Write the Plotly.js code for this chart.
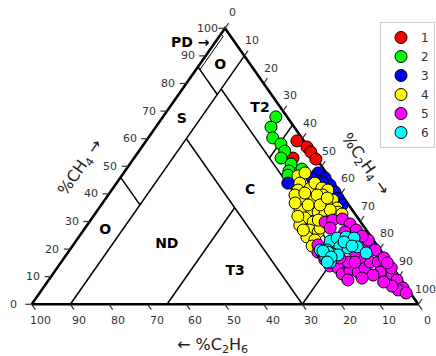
<!DOCTYPE html>
<html><head><meta charset="utf-8">
<script src="https://cdn.plot.ly/plotly-3.0.1.min.js"></script>
<style>html,body{margin:0;padding:0;background:#fff}#chart{width:436px;height:356px}</style>
</head><body><div id="chart"></div>
<script>
// ---- data: %CH4 and %C2H4 of each sample (%C2H6 = 100 - CH4 - C2H4) ----
const seriesNames = ['1', '2', '3', '4', '5', '6'];
const seriesColors = ['#ff0000', '#00ff00', '#0000ff', '#ffff00', '#ff00ff', '#00ffff'];

const ch4_1 = [59.2, 57.0, 55.2, 52.6, 53.0];
const c2h4_1 = [39.0, 42.7, 44.6, 47.2, 41.1];

const ch4_2 = [67.9, 64.2, 60.3, 58.1, 55.5, 53.0, 50.8, 48.3, 49.0, 45.0, 46.8];
const c2h4_2 = [29.2, 29.8, 32.2, 35.4, 37.7, 38.0, 41.7, 42.4, 45.4, 45.1, 42.9];

const ch4_3 = [47.6, 45.8, 43.2, 40.7, 38.5, 45.8, 43.9, 29.1, 44.3, 36.0];
const c2h4_3 = [50.3, 53.0, 55.6, 58.1, 60.0, 49.6, 44.3, 56.2, 53.0, 62.3];

const ch4_4 = [46.5, 47.6, 43.9, 41.4, 42.1, 43.9, 42.1, 41.4, 39.6, 37.8, 36.0, 34.9, 37.8, 37.8, 34.2, 33.4, 32.7, 31.3, 33.4, 34.2, 31.3, 29.8, 29.8, 28.7, 26.9, 26.2, 24.4, 23.3, 21.1, 27.6, 39.6, 40.3, 39.6, 34.2, 36.7, 36.0, 36.0, 38.5, 32.7, 31.9, 30.5, 26.9];
const c2h4_4 = [45.6, 46.9, 47.4, 48.2, 51.0, 51.3, 54.0, 55.9, 55.5, 59.0, 58.4, 61.5, 53.9, 51.3, 54.9, 57.4, 59.5, 62.0, 62.5, 52.3, 55.0, 57.9, 60.2, 55.0, 58.5, 61.0, 59.0, 61.6, 62.0, 60.8, 48.3, 50.5, 54.0, 60.1, 49.8, 53.5, 56.6, 57.2, 63.9, 52.9, 58.9, 56.8];

const ch4_5 = [29.8, 30.5, 30.9, 29.1, 26.9, 27.6, 21.5, 18.9, 16.1, 13.9, 13.2, 11.0, 12.4, 11.7, 13.2, 15.3, 15.3, 13.9, 11.7, 10.3, 8.8, 5.9, 5.2, 6.6, 10.6, 16.8, 20.4, 18.9, 15.3, 16.8, 19.7, 23.3, 24.7, 26.2, 16.8, 13.2, 4.1, 15.0, 8.1, 9.5, 8.8, 15.3];
const c2h4_5 = [61.0, 62.6, 64.9, 67.8, 70.5, 63.4, 63.3, 64.6, 67.8, 70.2, 72.6, 74.8, 76.1, 78.6, 79.6, 79.9, 82.0, 84.7, 84.3, 88.1, 90.1, 93.1, 92.2, 89.9, 83.0, 76.5, 75.8, 74.2, 74.2, 71.3, 79.0, 75.4, 73.1, 67.9, 82.7, 86.4, 94.8, 84.5, 87.0, 80.7, 77.4, 76.0];

const ch4_6 = [22.9, 24.0, 24.4, 24.0, 20.8, 20.4, 20.8, 18.6, 19.7, 18.2, 17.9, 18.6, 16.8, 15.3, 17.5, 18.9, 19.7, 22.6, 21.1, 17.9, 16.4, 19.3, 17.1, 15.3];
const c2h4_6 = [65.8, 67.0, 69.1, 71.4, 69.3, 71.6, 73.8, 77.2, 66.6, 68.8, 70.3, 65.8, 67.7, 69.6, 66.9, 67.2, 64.8, 69.5, 72.3, 66.9, 68.7, 65.7, 68.9, 68.8];

const tickValues = [0, 10, 20, 30, 40, 50, 60, 70, 80, 90, 100];

// Duval triangle 5 zone boundaries: [ch4 start, c2h4 start, ch4 end, c2h4 end]
const zoneSegments = [
  [86, 0, 76, 10], [46, 0, 36, 10], [90, 10, 0, 10], [78, 10, 18, 70],
  [65, 35, 53, 35], [60, 10, 0, 70], [35, 35, 0, 35], [18, 70, 0, 70]
];
const pdZoneCH4 = [98, 97, 85, 86, 98];
const pdZoneC2H4 = [0, 1, 1, 0, 0];
const zoneNames = ['O', 'S', 'T2', 'C', 'O', 'ND', 'T3', 'C'];
const zoneCH4 = [86.7, 66.8, 71.1, 41.4, 26.6, 21.5, 11.8, 12.1];
const zoneC2H4 = [5.4, 5.4, 23.5, 35.8, 5.7, 24.2, 46.7, 76.8];

// ---- geometry ----
const W = 436, H = 356;
const xRange = [-8.2, 104.58];
const yRange = [-18.73, 110.25];
const kx = W / (xRange[1] - xRange[0]);
const ky = H / (yRange[1] - yRange[0]);
const tx = (ch4, c2h4) => c2h4 + ch4 / 2;
const ty = (ch4) => ch4;
const FONT = 'DejaVu Sans';

const traces = [];
function segTrace(segs, width, color) {
  const x = [], y = [];
  segs.forEach(s => {
    x.push(tx(s[0], s[1]), tx(s[2], s[3]), null);
    y.push(ty(s[0]), ty(s[2]), null);
  });
  return {type: 'scatter', mode: 'lines', x, y, line: {color, width}, hoverinfo: 'skip', showlegend: false};
}

// zone lines
traces.push(segTrace(zoneSegments, 1.5, '#000'));
// PD strip
traces.push({type: 'scatter', mode: 'lines', x: pdZoneCH4.map((c, i) => tx(c, pdZoneC2H4[i])), y: pdZoneCH4.map(ty),
  line: {color: '#000', width: 1}, hoverinfo: 'skip', showlegend: false});
// triangle edges
const edgeCH4 = [0, 0, 100, 0], edgeC2H4 = [0, 100, 0, 0];
traces.push({type: 'scatter', mode: 'lines', x: edgeCH4.map((c, i) => tx(c, edgeC2H4[i])), y: edgeCH4.map(ty),
  line: {color: '#000', width: 2.5}, hoverinfo: 'skip', showlegend: false});

// ticks and tick labels
const L = Math.hypot(50 * kx, 100 * ky);
const ux = 50 * kx / L, uy = 100 * ky / L;
const tickLen = 6.5;
const tickSegs = {x: [], y: []};
const annotations = [];
function addTick(px, py, dx, dy, lx, ly, label) {
  tickSegs.x.push(px, px + tickLen * dx / kx, null);
  tickSegs.y.push(py, py + tickLen * dy / ky, null);
  annotations.push({x: px, y: py, xref: 'x', yref: 'y', text: String(label), showarrow: false,
    xshift: lx, yshift: ly, xanchor: 'center', yanchor: 'middle',
    font: {family: FONT, size: 11, color: '#333'}});
}
tickValues.forEach(v => {
  addTick(tx(v, 0), ty(v), -1, 0, -18, 0, v);                 // %CH4, left edge
  addTick(tx(0, 100 - v), ty(0), ux, -uy, 9, -15.7, v);       // %C2H6, bottom edge
  addTick(tx(100 - v, v), ty(100 - v), ux, uy, 7.5, 15.3, v); // %C2H4, right edge
});
traces.push({type: 'scatter', mode: 'lines', x: tickSegs.x, y: tickSegs.y, line: {color: '#333', width: 1.2},
  hoverinfo: 'skip', showlegend: false});

// zone labels (drawn under the samples)
traces.push({type: 'scatter', mode: 'text', x: zoneCH4.map((c, i) => tx(c, zoneC2H4[i])), y: zoneCH4.map(ty),
  text: zoneNames, textposition: 'middle center', cliponaxis: false,
  textfont: {family: FONT, size: 14, color: '#000', weight: 'bold'}, hoverinfo: 'skip', showlegend: false});

// samples
const allCH4 = [ch4_1, ch4_2, ch4_3, ch4_4, ch4_5, ch4_6];
const allC2H4 = [c2h4_1, c2h4_2, c2h4_3, c2h4_4, c2h4_5, c2h4_6];
seriesNames.forEach((name, k) => {
  const a = allCH4[k], b = allC2H4[k];
  traces.push({type: 'scatter', mode: 'markers', name,
    x: a.map((c, i) => tx(c, b[i])), y: a.map(ty),
    customdata: a.map((c, i) => [c, b[i], +(100 - c - b[i]).toFixed(1)]),
    hovertemplate: 'CH4 %{customdata[0]}%<br>C2H4 %{customdata[1]}%<br>C2H6 %{customdata[2]}%<extra>' + name + '</extra>',
    cliponaxis: false,
    marker: {size: 12, color: seriesColors[k], line: {color: '#000', width: 1}}});
});

// PD label and axis titles
annotations.push({x: tx(94.7, 0), y: ty(94.7), xref: 'x', yref: 'y', text: '<b>PD →</b>', showarrow: false,
  xanchor: 'right', yanchor: 'middle', xshift: -3, yshift: 1, font: {family: FONT, size: 14, color: '#000'}});
annotations.push({x: 12.75, y: 49.4, xref: 'x', yref: 'y', text: '%CH<sub>4</sub> →', showarrow: false,
  textangle: -55, font: {family: FONT, size: 16, color: '#222'}});
annotations.push({x: 86.2, y: 50.5, xref: 'x', yref: 'y', text: '%C<sub>2</sub>H<sub>4</sub> →', showarrow: false,
  textangle: 55, font: {family: FONT, size: 16, color: '#222'}});
annotations.push({x: 46.8, y: -15.0, xref: 'x', yref: 'y', text: '← %C<sub>2</sub>H<sub>6</sub>', showarrow: false,
  font: {family: FONT, size: 16, color: '#222'}});

const layout = {
  width: W, height: H, margin: {l: 0, r: 0, t: 0, b: 0},
  paper_bgcolor: '#fff', plot_bgcolor: '#fff',
  font: {family: FONT},
  xaxis: {range: xRange, visible: false, fixedrange: true},
  yaxis: {range: yRange, visible: false, fixedrange: true},
  showlegend: true,
  legend: {x: 380 / W, y: 1 - 22 / H, xanchor: 'left', yanchor: 'top', bgcolor: '#fff',
    bordercolor: '#cccccc', borderwidth: 1, font: {family: FONT, size: 12, color: '#333'}},
  annotations,
  hovermode: 'closest'
};
Plotly.newPlot('chart', traces, layout, {displayModeBar: false});
</script>
</body></html>
